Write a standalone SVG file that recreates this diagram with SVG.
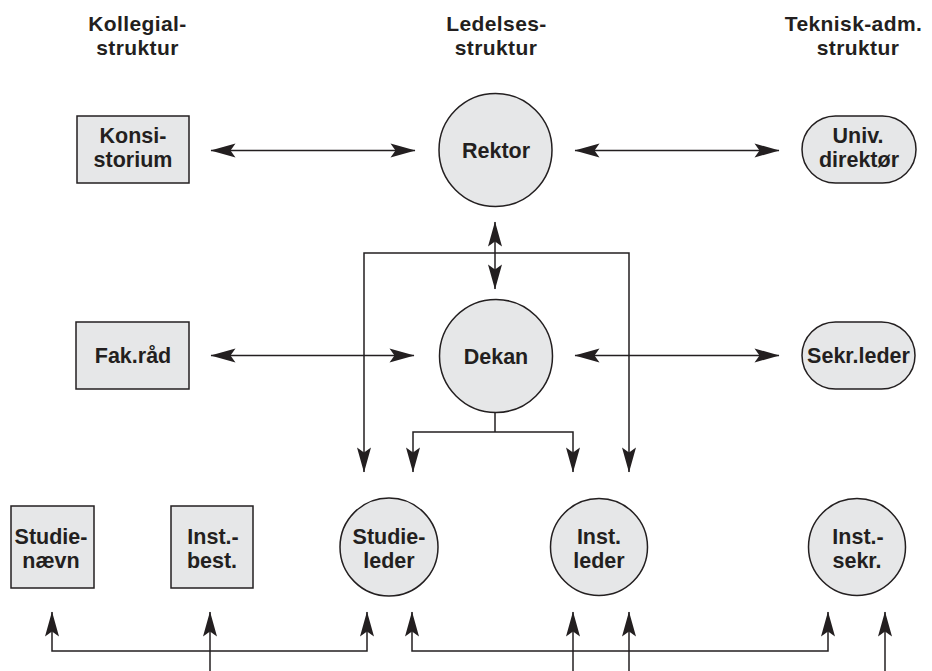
<svg xmlns="http://www.w3.org/2000/svg" width="932" height="671" viewBox="0 0 932 671">
<style>
  .hdr { font-family: "Liberation Sans", Arial, sans-serif; font-weight: bold; font-size: 21px; letter-spacing: 0.4px; fill: #231f20; text-anchor: middle; }
  .lbl { font-family: "Liberation Sans", Arial, sans-serif; font-weight: bold; font-size: 21.5px; fill: #231f20; text-anchor: middle; }
  .shape { fill: #e6e7e8; stroke: #231f20; stroke-width: 1.5; }
  .conn { fill: none; stroke: #231f20; stroke-width: 1.5; }
</style>
<defs>
  <marker id="arr" markerUnits="userSpaceOnUse" markerWidth="27" markerHeight="16" viewBox="-26 -8 27 16" refX="0" refY="0" orient="auto-start-reverse">
    <path d="M0.5,0 L-24.5,-7 L-19.5,0 L-24.5,7 Z" fill="#231f20"/>
  </marker>
</defs>
<rect width="932" height="671" fill="#ffffff"/>

<g id="headers">
  <text class="hdr" x="137.5" y="30.8">Kollegial-</text>
  <text class="hdr" x="137.5" y="54.8">struktur</text>
  <text class="hdr" x="496.5" y="30.8">Ledelses-</text>
  <text class="hdr" x="496" y="54.8">struktur</text>
  <text class="hdr" x="853.5" y="30.8">Teknisk-adm.</text>
  <text class="hdr" x="858" y="54.8">struktur</text>
</g>

<g id="connectors">
  <line class="conn" x1="211" y1="150.5" x2="415" y2="150.5" marker-start="url(#arr)" marker-end="url(#arr)"/>
  <line class="conn" x1="575" y1="150.5" x2="779" y2="150.5" marker-start="url(#arr)" marker-end="url(#arr)"/>
  <line class="conn" x1="495" y1="222" x2="495" y2="289" marker-start="url(#arr)" marker-end="url(#arr)"/>
  <path class="conn" d="M364,472 V253 H629 V472" marker-start="url(#arr)" marker-end="url(#arr)"/>
  <line class="conn" x1="211" y1="355.5" x2="414" y2="355.5" marker-start="url(#arr)" marker-end="url(#arr)"/>
  <line class="conn" x1="575" y1="355.5" x2="779" y2="355.5" marker-start="url(#arr)" marker-end="url(#arr)"/>
  <path class="conn" d="M495,412 V432"/>
  <path class="conn" d="M413,472 V432 H573 V472" marker-start="url(#arr)" marker-end="url(#arr)"/>
  <path class="conn" d="M52,612 V651 H367 V612" marker-start="url(#arr)" marker-end="url(#arr)"/>
  <line class="conn" x1="210" y1="671" x2="210" y2="612" marker-end="url(#arr)"/>
  <path class="conn" d="M412,612 V651 H828 V612" marker-start="url(#arr)" marker-end="url(#arr)"/>
  <line class="conn" x1="573" y1="671" x2="573" y2="612" marker-end="url(#arr)"/>
  <line class="conn" x1="629" y1="671" x2="629" y2="612" marker-end="url(#arr)"/>
  <line class="conn" x1="885" y1="671" x2="885" y2="612" marker-end="url(#arr)"/>
</g>

<g id="konsistorium">
  <rect class="shape" x="77" y="116" width="112" height="67"/>
  <text class="lbl" x="133" y="142.5">Konsi-</text>
  <text class="lbl" x="133" y="167">storium</text>
</g>
<g id="rektor">
  <circle class="shape" cx="495.5" cy="150" r="56.5"/>
  <text class="lbl" x="496" y="158">Rektor</text>
</g>
<g id="univdirektor">
  <rect class="shape" x="802" y="116" width="114" height="67" rx="33.5" ry="33.5"/>
  <text class="lbl" x="858" y="142.5">Univ.</text>
  <text class="lbl" x="859" y="167">direktør</text>
</g>

<g id="fakraad">
  <rect class="shape" x="76" y="322" width="113" height="67"/>
  <text class="lbl" x="133" y="363">Fak.råd</text>
</g>
<g id="dekan">
  <circle class="shape" cx="496" cy="356" r="56.5"/>
  <text class="lbl" x="496" y="363.5">Dekan</text>
</g>
<g id="sekrleder">
  <rect class="shape" x="802" y="322" width="113" height="67" rx="33.5" ry="33.5"/>
  <text class="lbl" x="858.5" y="363">Sekr.leder</text>
</g>

<g id="studienaevn">
  <rect class="shape" x="11" y="506" width="83" height="82"/>
  <text class="lbl" x="51" y="543.5">Studie-</text>
  <text class="lbl" x="51" y="568">nævn</text>
</g>
<g id="instbest">
  <rect class="shape" x="171" y="506" width="82" height="82"/>
  <text class="lbl" x="213" y="543.5">Inst.-</text>
  <text class="lbl" x="212" y="568">best.</text>
</g>
<g id="studieleder">
  <circle class="shape" cx="389" cy="547" r="49"/>
  <text class="lbl" x="389" y="543.5">Studie-</text>
  <text class="lbl" x="389" y="568">leder</text>
</g>
<g id="instleder">
  <circle class="shape" cx="599" cy="547" r="48.5"/>
  <text class="lbl" x="599" y="543.5">Inst.</text>
  <text class="lbl" x="599" y="568">leder</text>
</g>
<g id="instsekr">
  <circle class="shape" cx="857" cy="547" r="48.5"/>
  <text class="lbl" x="858" y="543.5">Inst.-</text>
  <text class="lbl" x="857" y="568">sekr.</text>
</g>
</svg>
